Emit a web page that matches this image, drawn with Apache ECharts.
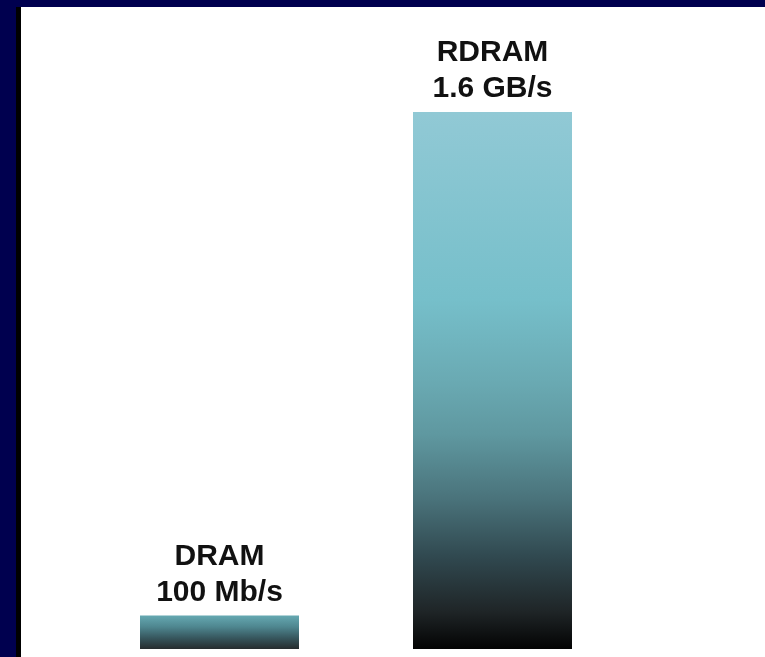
<!DOCTYPE html>
<html>
<head>
<meta charset="utf-8">
<script src="https://cdn.jsdelivr.net/npm/echarts@6/dist/echarts.min.js"></script>
<style>
    html, body { margin: 0; padding: 0; background: #00004f; }
    #frame {
        position: absolute; left: 16px; top: 7px;
        width: 744px; height: 650px;
        border-left: 5px solid #000;
        background: #fff;
    }
    #chart { width: 744px; height: 650px; }
</style>
</head>
<body>
<div id="frame"><div id="chart"></div></div>
<script>
// memory bandwidth, GB/s
const categories = ['DRAM', 'RDRAM'];
const bandwidth = [0.1, 1.6];
const rateLabels = ['100 Mb/s', '1.6 GB/s'];

// colour ramps, top -> bottom of each bar
const rampDram = ['#66a9b2', '#4f8790', '#37575e', '#262c2e'];
const rampRdram = ['#91c9d5', '#76bfca', '#6aaab3', '#5f98a0', '#4a737b', '#30484f', '#1f2527', '#030303'];

function ramp(colors) {
    return new echarts.graphic.LinearGradient(0, 0, 0, 1,
        colors.map((c, i) => ({ offset: i / (colors.length - 1), color: c })));
}

const rampOffsets = [0, 0.35, 0.5, 0.6, 0.72, 0.83, 0.93, 1];
function rampAt(colors, offsets) {
    return new echarts.graphic.LinearGradient(0, 0, 0, 1,
        colors.map((c, i) => ({ offset: offsets[i], color: c })));
}

const chart = echarts.init(document.getElementById('chart'));
chart.setOption({
    animation: false,
    grid: { left: 62, right: 136, top: 105, bottom: 8 },
    xAxis: {
        type: 'category',
        data: categories,
        show: false
    },
    yAxis: {
        type: 'value',
        min: 0,
        max: 1.6,
        show: false
    },
    series: [
        {
            type: 'bar',
            barWidth: 159,
            data: [
                { value: bandwidth[0], itemStyle: { color: ramp(rampDram) } },
                { value: bandwidth[1], itemStyle: { color: rampAt(rampRdram, rampOffsets) } }
            ],
            label: {
                show: true,
                position: 'top',
                distance: 5,
                color: '#111',
                fontFamily: 'Liberation Sans, Arial, sans-serif',
                fontWeight: 'bold',
                fontSize: 30,
                lineHeight: 36,
                formatter: p => categories[p.dataIndex] + '\n' + rateLabels[p.dataIndex]
            }
        }
    ]
});
</script>
</body>
</html>
